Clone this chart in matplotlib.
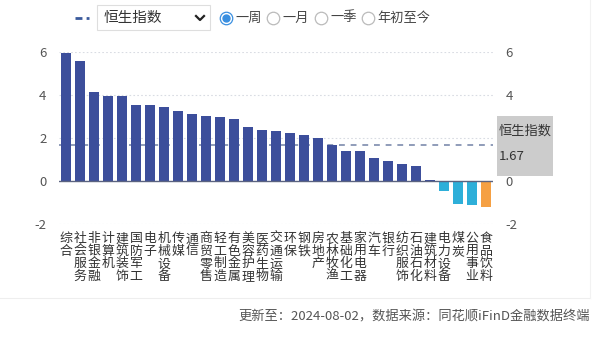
import matplotlib
matplotlib.use('Agg')
import matplotlib.pyplot as plt
from matplotlib.lines import Line2D
from matplotlib.patches import Rectangle

plt.rcParams['font.family'] = ['Noto Sans CJK SC', 'DejaVu Sans']

# industry names and weekly change (%)
industries = ['综合', '社会服务', '非银金融', '计算机', '建筑装饰', '国防军工', '电子', '机械设备',
              '传媒', '通信', '商贸零售', '轻工制造', '有色金属', '美容护理', '医药生物', '交通运输',
              '环保', '钢铁', '房地产', '农林牧渔', '基础化工', '家用电器', '汽车', '银行',
              '纺织服饰', '石油石化', '建筑材料', '电力设备', '煤炭', '公用事业', '食品饮料']
changes = [5.94, 5.60, 4.16, 3.95, 3.94, 3.55, 3.52, 3.46, 3.27, 3.10, 3.04, 3.00, 2.90, 2.53,
           2.37, 2.33, 2.23, 2.16, 2.00, 1.68, 1.41, 1.40, 1.06, 0.95, 0.81, 0.70, 0.05, -0.46,
           -1.08, -1.12, -1.19]
hsi_name = '恒生指数'
hsi_change = 1.67
highlight = '食品饮料'
yticks = [-2, 0, 2, 4, 6]
yticks_right = [-2, 0, 4, 6]  # the "2" sits under the index box

W, H = 600, 345
fig = plt.figure(figsize=(W / 100, H / 100), dpi=100)

def fx(px):
    return px / W

def fy(py):
    return 1 - py / H

ax = fig.add_axes([fx(59), fy(224), fx(493) - fx(59), fy(52) - fy(224)])

colors = []
for name, v in zip(industries, changes):
    if name == highlight:
        colors.append('#f5a043')
    elif v < 0:
        colors.append('#2eafd9')
    else:
        colors.append('#3c4e9b')

x = list(range(len(industries)))
ax.bar(x, changes, width=0.72, color=colors, zorder=3)
ax.axhline(hsi_change, color='#7d8bad', lw=1.2, ls=(0, (3.5, 3.5)), zorder=2)
ax.axhline(0, color='#5b6380', lw=1.0, zorder=4)
for t in yticks:
    if t != 0:
        ax.axhline(t, color='#d9dce3', lw=0.8, ls=(0, (1.5, 2)), zorder=1)

ax.set_xlim(-0.5, len(industries) - 0.5)
ax.set_ylim(-2, 6)
ax.set_yticks(yticks)
ax.set_yticklabels([str(t) for t in yticks])
ax.tick_params(axis='y', length=0, labelsize=9.5, labelcolor='#555555', pad=9)
ax.set_xticks(x)
ax.set_xticklabels(['\n'.join(n) for n in industries], fontsize=9.3, color='#333333',
                   linespacing=0.95)
ax.tick_params(axis='x', length=0, pad=6)
for s in ax.spines.values():
    s.set_visible(False)

axr = ax.twinx()
axr.set_ylim(ax.get_ylim())
axr.set_yticks(yticks_right)
axr.set_yticklabels([str(t) for t in yticks_right])
axr.tick_params(axis='y', length=0, labelsize=9.5, labelcolor='#555555', pad=9)
for s in axr.spines.values():
    s.set_visible(False)

# index label box on the right
fig.add_artist(Rectangle((fx(497), fy(176)), fx(553) - fx(497), fy(116) - fy(176),
                         transform=fig.transFigure, facecolor='#cccccc', edgecolor='none'))
fig.text(fx(499), fy(131), hsi_name, fontsize=9.5, color='#333333', va='center', ha='left')
fig.text(fx(499), fy(157), f'{hsi_change:.2f}', fontsize=9.5, color='#333333', va='center', ha='left')

# header: legend dash, dropdown and radios
fig.add_artist(Line2D([fx(75), fx(89)], [fy(18), fy(18)], color='#3a5a9c', lw=2,
                      ls=(0, (2.5, 1.5)), transform=fig.transFigure))
fig.add_artist(Rectangle((fx(97), fy(30)), fx(210) - fx(97), fy(5) - fy(30),
                         transform=fig.transFigure, facecolor='white', edgecolor='#dedede', lw=0.8))
fig.text(fx(104), fy(18), hsi_name, fontsize=10.5, color='#333333', va='center', ha='left')
fig.add_artist(Line2D([fx(196), fx(200), fx(204)], [fy(16), fy(20), fy(16)], color='#222222',
                      lw=1.6, transform=fig.transFigure))

radios = [('一周', 226, True), ('一月', 273, False), ('一季', 321, False), ('年初至今', 368, False)]
for label, rx, on in radios:
    fig.add_artist(Line2D([fx(rx)], [fy(18)], marker='o', markersize=9, mfc='white',
                          mec='#3a8fe0' if on else '#bbbbbb', mew=0.9, transform=fig.transFigure))
    if on:
        fig.add_artist(Line2D([fx(rx)], [fy(18)], marker='o', markersize=5, mfc='#3a8fe0',
                              mec='#3a8fe0', transform=fig.transFigure))
    fig.text(fx(rx + 9), fy(18), label, fontsize=9.5, color='#444444', va='center', ha='left')

# footer
fig.add_artist(Line2D([0, fx(590)], [fy(298), fy(298)], color='#eeeeee', lw=0.8,
                      transform=fig.transFigure))
fig.add_artist(Line2D([fx(590), fx(590)], [fy(0), fy(298)], color='#f2f2f2', lw=0.8,
                      transform=fig.transFigure))
fig.text(fx(590), fy(317), '更新至：2024-08-02，数据来源：同花顺iFinD金融数据终端', fontsize=9.5,
         color='#555555', va='center', ha='right')

fig.savefig('out.png', dpi=100)
